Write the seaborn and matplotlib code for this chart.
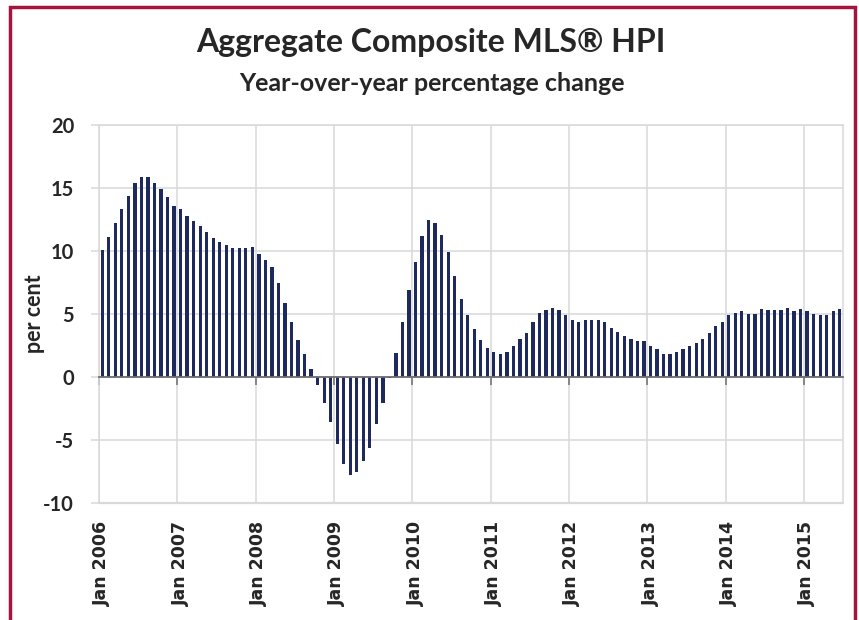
import numpy as np
import pandas as pd
import seaborn as sns
import matplotlib
matplotlib.use("Agg")
import matplotlib.pyplot as plt
from matplotlib.patches import Rectangle

# ---- data (year-over-year % change, monthly) ----
vals_2006 = [10.1, 11.1, 12.2, 13.3, 14.4, 15.4, 15.9, 15.9, 15.4, 14.9, 14.3, 13.6]
vals_2007 = [13.3, 12.8, 12.4, 12.0, 11.5, 11.0, 10.7, 10.5, 10.2, 10.2, 10.2, 10.3]
vals_2008 = [9.8, 9.3, 8.7, 7.5, 5.9, 4.4, 2.9, 1.8, 0.6, -0.6, -2.1, -3.6]
vals_2009 = [-5.3, -6.9, -7.8, -7.5, -6.7, -5.6, -3.7, -2.1, -0.1, 1.9, 4.4, 6.9]
vals_2010 = [9.1, 11.2, 12.5, 12.2, 11.3, 9.9, 8.0, 6.2, 4.9, 3.8, 2.9, 2.3]
vals_2011 = [2.0, 1.85, 2.0, 2.5, 3.0, 3.5, 4.4, 5.1, 5.3, 5.5, 5.3, 4.9]
vals_2012 = [4.55, 4.4, 4.5, 4.5, 4.5, 4.4, 3.9, 3.6, 3.25, 3.0, 2.85, 2.85]
vals_2013 = [2.5, 2.2, 1.8, 1.85, 2.0, 2.2, 2.5, 2.7, 3.0, 3.5, 4.05, 4.4]
vals_2014 = [4.9, 5.1, 5.2, 5.0, 5.0, 5.4, 5.3, 5.3, 5.3, 5.5, 5.2, 5.4]
vals_2015 = [5.2, 5.0, 4.95, 4.95, 5.2, 5.4]

years = [2006, 2007, 2008, 2009, 2010, 2011, 2012, 2013, 2014, 2015]
month_names = ["Jan", "Feb", "Mar", "Apr", "May", "Jun",
               "Jul", "Aug", "Sep", "Oct", "Nov", "Dec"]
year_labels = ["Jan 2006", "Jan 2007", "Jan 2008", "Jan 2009", "Jan 2010",
               "Jan 2011", "Jan 2012", "Jan 2013", "Jan 2014", "Jan 2015"]
y_ticks = [-10, -5, 0, 5, 10, 15, 20]

title = "Aggregate Composite MLS\u00ae HPI"
subtitle = "Year-over-year percentage change"
y_label = "per cent"

series = [vals_2006, vals_2007, vals_2008, vals_2009, vals_2010,
          vals_2011, vals_2012, vals_2013, vals_2014, vals_2015]
months, values = [], []
for yr, vals in zip(years, series):
    for m, v in enumerate(vals):
        months.append(f"{month_names[m]} {yr}")
        values.append(v)
df = pd.DataFrame({"month": months, "change": values})

# ---- style ----
sns.set_style("white")
plt.rcParams["font.family"] = ["Lato", "DejaVu Sans"]

W, H = 859, 620
fig = plt.figure(figsize=(W / 100, H / 100), dpi=100)
ax = fig.add_axes([99 / W, 1 - 503 / H, (843 - 99) / W, (503 - 125) / H])

navy = "#1E2A5E"
grid_c = "#D9D9D9"
text_c = "#262626"

sns.barplot(data=df, x="month", y="change", order=months, color=navy,
            saturation=1, width=0.5, linewidth=0, ax=ax, zorder=3)

n = len(months)
ax.set_xlim(-0.5, n - 0.5)
ax.set_ylim(-10, 20)

jan_idx = np.array([months.index(f"Jan {yr}") for yr in years])

# major x ticks at year boundaries (grid + tick marks on zero line)
ax.set_xticks(jan_idx - 0.5)
ax.set_xticklabels([])
ax.xaxis.grid(True, color=grid_c, linewidth=1.1, zorder=0)
ax.spines["bottom"].set_position(("data", 0))
ax.spines["bottom"].set_color("#6E6E6E")
ax.spines["bottom"].set_linewidth(1.3)
ax.spines["bottom"].set_zorder(4)
ax.tick_params(axis="x", direction="out", length=6, width=1.1,
               color="#6E6E6E", bottom=True)

# y axis
ax.set_yticks(y_ticks)
ax.set_yticklabels([str(t) for t in y_ticks])
ax.yaxis.grid(True, color=grid_c, linewidth=1.1, zorder=0)
ax.tick_params(axis="y", direction="out", length=6, width=1.1, color=grid_c,
               left=True, pad=12, labelsize=14.5, labelcolor=text_c)
for lab in ax.get_yticklabels():
    lab.set_fontweight("bold")
for s in ["left", "right", "top"]:
    ax.spines[s].set_visible(True)
    ax.spines[s].set_color(grid_c)
    ax.spines[s].set_linewidth(1.1)
ax.axhline(-10, color=grid_c, linewidth=1.6, clip_on=False, zorder=1)

ax.set_xlabel("")
ax.set_ylabel(y_label, fontsize=15.5, fontweight="bold", color=text_c)
ax.yaxis.set_label_coords(-0.072, 0.5)

# x tick labels on a secondary axis at the bottom of the plot area
sec = ax.secondary_xaxis(0.0)
sec.set_xticks(jan_idx)
sec.set_xticklabels(year_labels, rotation=90, fontfamily="DejaVu Sans",
                    fontweight="bold", fontsize=12.5, color=text_c)
sec.tick_params(axis="x", length=0, pad=13)
sec.spines["bottom"].set_visible(False)

# titles
fig.text(0.502, 1 - 52 / H, title, ha="center", va="baseline",
         fontsize=23, fontweight="bold", color=text_c)
fig.text(0.503, 1 - 91 / H, subtitle, ha="center", va="baseline",
         fontsize=18, fontweight="bold", color=text_c)

# frame border
fig.patches.append(Rectangle((10 / W, -0.05), (855 - 10) / W, 1.05 - 7 / H,
                             transform=fig.transFigure, fill=False,
                             edgecolor="#A3153F", linewidth=2.5, zorder=10))

fig.savefig("out.png", dpi=100)
